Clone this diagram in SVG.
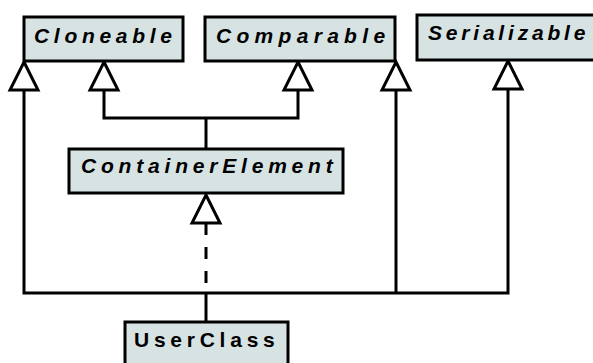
<svg xmlns="http://www.w3.org/2000/svg" width="593" height="363" viewBox="0 0 593 363">
  <style>
    .box { fill: #d7e3e3; stroke: #000; stroke-width: 3; }
    .lbl { font-family: "Liberation Sans", Arial, sans-serif; font-size: 21px; font-weight: bold; letter-spacing: 4.8px; fill: #000; }
    .it { font-style: italic; }
    .edge { fill: none; stroke: #000; stroke-width: 3; }
    .dash { stroke-dasharray: 12 12; }
    .head { fill: #fff; stroke: #000; stroke-width: 3; stroke-linejoin: miter; }
  </style>
  <defs>
    <!-- hollow generalization triangle, tip at origin -->
    <path id="tri" d="M0,0 L14,28 L-14,28 Z" class="head"/>
  </defs>

  <g id="connectors">
    <!-- Cloneable / Comparable -> ContainerElement -->
    <path class="edge" d="M104,90 V118 H298 V90"/>
    <path class="edge" d="M206,118 V148"/>
    <!-- UserClass -> interfaces -->
    <path class="edge" d="M24,90 V293 H508 V89"/>
    <path class="edge" d="M396,90 V293"/>
    <path class="edge" d="M206,293 V321"/>
    <!-- UserClass realizes ContainerElement -->
    <path class="edge dash" d="M206,223 V293"/>
    <use href="#tri" x="24" y="62"/>
    <use href="#tri" x="104" y="62"/>
    <use href="#tri" x="298" y="62"/>
    <use href="#tri" x="396" y="62"/>
    <use href="#tri" x="508" y="61"/>
    <use href="#tri" x="206" y="195"/>
  </g>

  <g id="Cloneable">
    <rect class="box" x="24" y="17" width="159" height="44"/>
    <text class="lbl it" x="34" y="43" style="letter-spacing:4.7px">Cloneable</text>
  </g>
  <g id="Comparable">
    <rect class="box" x="205" y="17" width="190" height="44"/>
    <text class="lbl it" x="216" y="43" style="letter-spacing:5.3px">Comparable</text>
  </g>
  <g id="Serializable">
    <rect class="box" x="417" y="15" width="200" height="45"/>
    <text class="lbl it" x="428" y="40" style="letter-spacing:3.8px">Serializable</text>
  </g>
  <g id="ContainerElement">
    <rect class="box" x="69" y="149" width="274" height="44"/>
    <text class="lbl it" x="81" y="173">ContainerElement</text>
  </g>
  <g id="UserClass">
    <rect class="box" x="125" y="322" width="163" height="60"/>
    <text class="lbl" x="134" y="347" style="letter-spacing:4.75px">UserClass</text>
  </g>
</svg>
